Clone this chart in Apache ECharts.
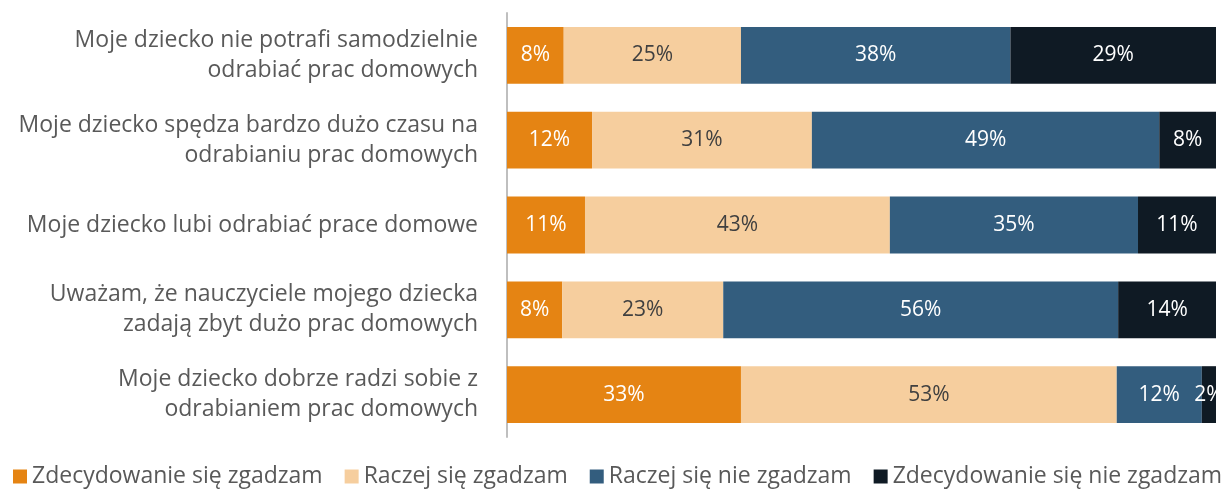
<!DOCTYPE html>
<html>
<head>
<meta charset="utf-8">
<script src="https://cdn.jsdelivr.net/npm/echarts@6/dist/echarts.min.js"></script>
<style>
html,body{margin:0;padding:0;background:#fff;}
#chart{width:1230px;height:493px;}
</style>
</head>
<body>
<div id="chart"></div>
<script>
// kategorie (od góry)
var categories = [
	'Moje dziecko nie potrafi samodzielnie\nodrabiać prac domowych',
	'Moje dziecko spędza bardzo dużo czasu na\nodrabianiu prac domowych',
	'Moje dziecko lubi odrabiać prace domowe',
	'Uważam, że nauczyciele mojego dziecka\nzadają zbyt dużo prac domowych',
	'Moje dziecko dobrze radzi sobie z\nodrabianiem prac domowych'
];
var seriesNames = ['Zdecydowanie się zgadzam', 'Raczej się zgadzam', 'Raczej się nie zgadzam', 'Zdecydowanie się nie zgadzam'];
var zdecydowanieTak = [8, 12, 11, 7.8, 33];
var raczejTak = [25, 31, 43, 22.7, 53];
var raczejNie = [38, 49, 35, 55.7, 12];
var zdecydowanieNie = [29, 8, 11, 13.8, 2];

var values = [zdecydowanieTak, raczejTak, raczejNie, zdecydowanieNie];
var colors = ['#E58413', '#F6CE9E', '#335D7E', '#0F1A24'];
var labelColors = ['#fff', '#404040', '#fff', '#fff'];

var dom = document.getElementById('chart');
var myChart = echarts.init(dom);

var series = [];
for (var i = 0; i < values.length; i++) {
	series.push({
		name: seriesNames[i],
		type: 'bar',
		stack: 'total',
		barCategoryGap: '33%',
		data: values[i],
		itemStyle: {color: colors[i]},
		label: {
			show: true,
			position: 'inside',
			color: labelColors[i],
			fontSize: 21,
			fontFamily: 'Open Sans',
			formatter: function (p) { return Math.round(p.value) + '%'; }
		}
	});
}

var option = {
	animation: false,
	color: colors,
	grid: {left: 507, right: 14, top: 13, bottom: 56},
	legend: {
		bottom: 0,
		left: 8,
		itemWidth: 14,
		itemHeight: 14,
		itemGap: 22,
		icon: 'rect',
		textStyle: {color: '#595959', fontSize: 23, fontFamily: 'Open Sans'},
		data: seriesNames
	},
	xAxis: {
		type: 'value',
		min: 0,
		max: 100,
		show: false
	},
	yAxis: {
		type: 'category',
		inverse: true,
		data: categories,
		axisLine: {show: true, lineStyle: {color: '#BFBFBF', width: 2}},
		axisTick: {show: false},
		axisLabel: {
			color: '#595959',
			fontSize: 23,
			fontFamily: 'Open Sans',
			lineHeight: 30,
			margin: 29,
			align: 'right'
		}
	},
	series: series
};
myChart.setOption(option, true);
</script>
</body>
</html>
